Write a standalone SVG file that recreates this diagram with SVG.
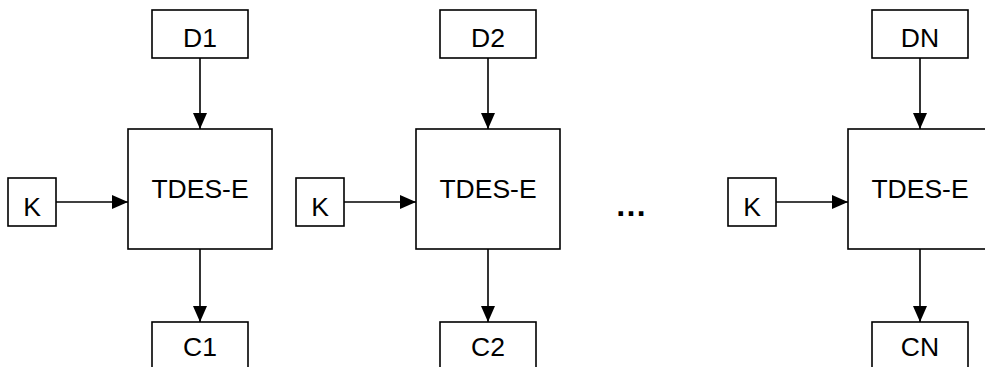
<svg xmlns="http://www.w3.org/2000/svg" width="985" height="367" viewBox="0 0 985 367">
<style>
  .box { fill: #fff; stroke: #000; stroke-width: 1.6; }
  .lbl { font-family: "Liberation Sans", Arial, sans-serif; font-size: 26.5px; fill: #000; text-anchor: middle; }
  .conn { stroke: #000; stroke-width: 1.6; fill: none; marker-end: url(#ah); }
</style>
<defs>
  <marker id="ah" markerUnits="userSpaceOnUse" markerWidth="16" markerHeight="14" refX="16" refY="7" orient="auto">
    <path d="M0,0 L16,7 L0,14 Z" fill="#000"/>
  </marker>
</defs>
<rect width="985" height="367" fill="#fff"/>

<g id="connectors">
  <line class="conn" x1="200" y1="58" x2="200" y2="129"/>
  <line class="conn" x1="56" y1="202" x2="128" y2="202"/>
  <line class="conn" x1="200" y1="249" x2="200" y2="322"/>

  <line class="conn" x1="488" y1="58" x2="488" y2="129"/>
  <line class="conn" x1="344" y1="202" x2="416" y2="202"/>
  <line class="conn" x1="488" y1="249" x2="488" y2="322"/>

  <line class="conn" x1="920" y1="58" x2="920" y2="129"/>
  <line class="conn" x1="776" y1="202" x2="848" y2="202"/>
  <line class="conn" x1="920" y1="249" x2="920" y2="322"/>
</g>

<g id="D1"><rect class="box" x="152" y="10" width="96" height="48"/><text class="lbl" x="200" y="46.5">D1</text></g>
<g id="K1"><rect class="box" x="8" y="178" width="48" height="48"/><text class="lbl" x="32" y="215.5">K</text></g>
<g id="TDES1"><rect class="box" x="128" y="129" width="144" height="120"/><text class="lbl" x="200" y="198">TDES-E</text></g>
<g id="C1"><rect class="box" x="152" y="322" width="96" height="60"/><text class="lbl" x="200" y="356">C1</text></g>

<g id="D2"><rect class="box" x="440" y="10" width="96" height="48"/><text class="lbl" x="488" y="46.5">D2</text></g>
<g id="K2"><rect class="box" x="296" y="178" width="48" height="48"/><text class="lbl" x="320" y="215.5">K</text></g>
<g id="TDES2"><rect class="box" x="416" y="129" width="144" height="120"/><text class="lbl" x="488" y="198">TDES-E</text></g>
<g id="C2"><rect class="box" x="440" y="322" width="96" height="60"/><text class="lbl" x="488" y="356">C2</text></g>

<g id="ellipsis"><text class="lbl" x="631" y="216" style="font-size:32px;font-weight:bold">…</text></g>

<g id="DN"><rect class="box" x="872" y="10" width="96" height="48"/><text class="lbl" x="920" y="46.5">DN</text></g>
<g id="KN"><rect class="box" x="728" y="178" width="48" height="48"/><text class="lbl" x="752" y="215.5">K</text></g>
<g id="TDESN"><rect class="box" x="848" y="129" width="144" height="120"/><text class="lbl" x="920" y="198">TDES-E</text></g>
<g id="CN"><rect class="box" x="872" y="322" width="96" height="60"/><text class="lbl" x="920" y="356">CN</text></g>
</svg>
